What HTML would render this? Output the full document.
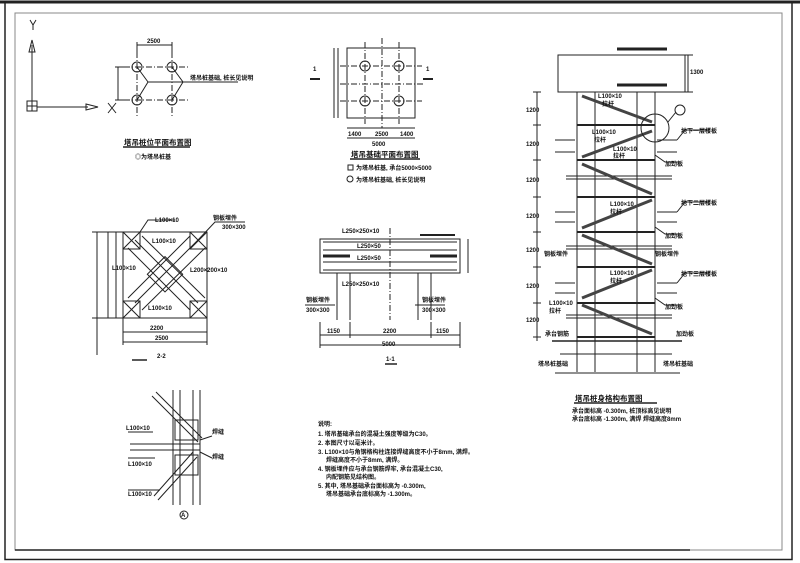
<!DOCTYPE html>
<html><head><meta charset="utf-8"><style>
html,body{margin:0;padding:0;background:#fff;}
svg{display:block;}
text{font-family:"Liberation Sans","Noto Sans CJK SC",sans-serif;font-weight:bold;fill:#111;}
.t{font-size:6px;}
.tt{font-size:7.5px;}
</style></head><body>
<svg width="800" height="563" viewBox="0 0 800 563" xmlns="http://www.w3.org/2000/svg">
<g fill="none" stroke="#222" stroke-width="1">
<!-- frames -->
<rect x="5" y="2.5" width="787" height="557" stroke-width="1.5"/>
<line x1="0" y1="2" x2="800" y2="2" stroke-width="3"/>
<rect x="15" y="13" width="767" height="537" stroke="#888"/>
<line x1="15" y1="550" x2="690" y2="550" stroke-width="1.5"/>
<!-- axis icon -->
<line x1="32" y1="45" x2="32" y2="105"/>
<path d="M29 52 L32 40 L35 52 Z"/>
<rect x="27" y="101" width="10" height="10"/>
<line x1="32" y1="101" x2="32" y2="111"/><line x1="27" y1="106" x2="37" y2="106"/>
<line x1="37" y1="107" x2="88" y2="107"/>
<path d="M86 104 L98 107 L86 110 Z"/>
<path d="M30 20 L33 25 L36 20 M33 25 L33 30"/>
<path d="M108 103 L116 113 M116 103 L108 113"/>
<!-- plan 1 -->
<g stroke-dasharray="6,2,1,2">
<line x1="124" y1="67" x2="190" y2="67"/><line x1="124" y1="100" x2="190" y2="100"/>
<line x1="137" y1="52" x2="137" y2="116"/><line x1="172" y1="52" x2="172" y2="116"/>
</g>
<circle cx="137" cy="67" r="5"/><circle cx="172" cy="67" r="5"/><circle cx="137" cy="100" r="5"/><circle cx="172" cy="100" r="5"/>
<path d="M137 67 L148 82 L137 100 M148 82 L183 82 L172 67 M183 82 L172 100 M183 82 L238 82"/>
<line x1="137" y1="45" x2="172" y2="45"/><line x1="137" y1="42" x2="137" y2="55"/><line x1="172" y1="42" x2="172" y2="55"/>
<line x1="118" y1="67" x2="118" y2="100"/><line x1="115" y1="67" x2="130" y2="67"/><line x1="115" y1="100" x2="130" y2="100"/>
<line x1="123" y1="147" x2="190" y2="147" stroke-width="1.5"/>
<!-- plan 2 -->
<rect x="347" y="48" width="68" height="70"/>
<g stroke-dasharray="6,2,1,2">
<line x1="340" y1="66" x2="422" y2="66"/><line x1="340" y1="101" x2="422" y2="101"/>
<line x1="365" y1="42" x2="365" y2="124"/><line x1="399" y1="42" x2="399" y2="124"/>
<line x1="340" y1="84" x2="424" y2="84"/><line x1="382" y1="38" x2="382" y2="128"/>
</g>
<g>
<circle cx="365" cy="66" r="5"/><circle cx="399" cy="66" r="5"/><circle cx="365" cy="101" r="5"/><circle cx="399" cy="101" r="5"/>
</g>
<line x1="338" y1="48" x2="338" y2="118"/><line x1="334" y1="48" x2="334" y2="118"/>
<line x1="347" y1="128" x2="415" y2="128"/><line x1="347" y1="138" x2="415" y2="138"/>
<line x1="310" y1="79" x2="320" y2="79" stroke-width="2"/><line x1="423" y1="79" x2="433" y2="79" stroke-width="2"/>
<line x1="350" y1="159" x2="420" y2="159" stroke-width="1.5"/>
<rect x="348" y="165" width="5" height="5"/><circle cx="350" cy="179" r="3"/>
<!-- section 2-2 -->
<rect x="123" y="232" width="84" height="86"/>
<line x1="116" y1="232" x2="116" y2="318"/>
<rect x="123" y="232" width="17" height="17"/><rect x="190" y="232" width="17" height="17"/>
<rect x="123" y="301" width="17" height="17"/><rect x="190" y="301" width="17" height="17"/>
<path d="M123 232 L140 249 M140 232 L123 249 M190 232 L207 249 M207 232 L190 249 M123 301 L140 318 M140 301 L123 318 M190 301 L207 318 M207 301 L190 318"/>
<path d="M135 240 L198 303 M128 248 L190 310 M142 236 L205 298 M198 240 L135 303 M205 248 L142 310 M190 236 L128 298"/>
<rect x="152" y="262" width="25" height="25" transform="rotate(45 165 275)"/>
<line x1="97" y1="232" x2="97" y2="355"/><line x1="97" y1="232" x2="97" y2="318"/><line x1="108" y1="232" x2="108" y2="318"/>
<line x1="92" y1="232" x2="123" y2="232"/><line x1="92" y1="318" x2="123" y2="318"/>
<line x1="123" y1="332" x2="207" y2="332"/><line x1="123" y1="342" x2="207" y2="342"/>
<line x1="123" y1="318" x2="123" y2="345"/><line x1="207" y1="318" x2="207" y2="345"/>
<line x1="132" y1="360" x2="147" y2="360" stroke-width="1.5"/>
<path d="M140 232 L148 220 L175 220 M198 240 L215 222 L245 222"/>
<!-- section 1-1 -->
<rect x="320" y="239" width="140" height="34"/>
<line x1="323" y1="250" x2="457" y2="250"/><line x1="323" y1="262" x2="457" y2="262"/>
<line x1="323" y1="242" x2="457" y2="242"/><line x1="323" y1="270" x2="457" y2="270"/>
<line x1="323" y1="256" x2="350" y2="256" stroke-width="3"/><line x1="430" y1="256" x2="457" y2="256" stroke-width="3"/>
<line x1="420" y1="235" x2="455" y2="235" stroke-width="2"/>
<line x1="390" y1="228" x2="390" y2="320" stroke-dasharray="6,2,1,2"/>
<line x1="337" y1="273" x2="337" y2="320"/><line x1="350" y1="273" x2="350" y2="320"/>
<line x1="418" y1="273" x2="418" y2="320"/><line x1="431" y1="273" x2="431" y2="320"/>
<line x1="468" y1="239" x2="468" y2="273"/>
<line x1="320" y1="335" x2="460" y2="335"/><line x1="320" y1="345" x2="460" y2="345"/>
<line x1="320" y1="322" x2="320" y2="348"/><line x1="460" y1="322" x2="460" y2="348"/>
<line x1="350" y1="322" x2="350" y2="338"/><line x1="431" y1="322" x2="431" y2="338"/>
<line x1="385" y1="364" x2="397" y2="364" stroke-width="1.5"/>
<path d="M305 305 L335 305 M415 305 L445 305"/>
<!-- detail A -->
<line x1="173" y1="390" x2="173" y2="505"/><line x1="180" y1="390" x2="180" y2="505"/>
<line x1="193" y1="390" x2="193" y2="505"/><line x1="200" y1="390" x2="200" y2="505"/>
<rect x="175" y="420" width="23" height="20"/><rect x="175" y="455" width="23" height="20"/>
<line x1="130" y1="444" x2="200" y2="444"/><line x1="130" y1="450" x2="200" y2="450"/>
<path d="M152 396 L198 442 M156 392 L202 438 M158 500 L197 457 M154 496 L193 452"/>
<path d="M153 432 L128 432 M155 458 L128 458 M160 490 L128 490 M200 440 L212 436 M200 452 L212 458"/>
<circle cx="184" cy="515" r="4"/>
<!-- tower -->
<rect x="558" y="55" width="127" height="37"/>
<line x1="617" y1="49" x2="667" y2="49" stroke-width="3"/><line x1="617" y1="85" x2="667" y2="85" stroke-width="3"/>
<line x1="688" y1="55" x2="688" y2="92"/><line x1="683" y1="55" x2="693" y2="55"/><line x1="683" y1="92" x2="693" y2="92"/>
<line x1="577" y1="92" x2="577" y2="372"/><line x1="595" y1="92" x2="595" y2="372"/>
<line x1="637" y1="92" x2="637" y2="372"/><line x1="655" y1="92" x2="655" y2="372"/>
<g>
<line x1="577" y1="125" x2="655" y2="125" stroke-width="2"/><line x1="577" y1="160" x2="655" y2="160" stroke-width="2"/>
<line x1="577" y1="197" x2="655" y2="197" stroke-width="2"/><line x1="577" y1="232" x2="655" y2="232" stroke-width="2"/>
<line x1="577" y1="267" x2="655" y2="267" stroke-width="2"/><line x1="577" y1="303" x2="655" y2="303" stroke-width="2"/>
<line x1="577" y1="337" x2="655" y2="337" stroke-width="2"/>
<line x1="566" y1="176" x2="672" y2="176"/><line x1="566" y1="179" x2="672" y2="179"/>
<line x1="566" y1="246" x2="672" y2="246"/><line x1="566" y1="249" x2="672" y2="249"/>
<line x1="566" y1="315" x2="672" y2="315"/><line x1="566" y1="318" x2="672" y2="318"/>
<line x1="552" y1="341" x2="682" y2="341" stroke-width="1.5"/>
<line x1="560" y1="354" x2="672" y2="354"/>
<line x1="555" y1="373" x2="680" y2="373"/>
</g>
<g stroke-width="3" stroke="#444">
<line x1="582" y1="96" x2="652" y2="122"/><line x1="582" y1="157" x2="652" y2="131"/>
<line x1="582" y1="164" x2="652" y2="194"/><line x1="582" y1="228" x2="652" y2="200"/>
<line x1="582" y1="235" x2="652" y2="264"/><line x1="582" y1="298" x2="652" y2="270"/>
<line x1="582" y1="305" x2="652" y2="334"/>
</g>
<circle cx="655" cy="128" r="14"/>
<path d="M668 122 L676 112"/><circle cx="680" cy="110" r="5"/>
<line x1="537" y1="92" x2="537" y2="341"/>
<g><line x1="533" y1="92" x2="541" y2="92"/><line x1="533" y1="125" x2="541" y2="125"/><line x1="533" y1="160" x2="541" y2="160"/><line x1="533" y1="197" x2="541" y2="197"/><line x1="533" y1="232" x2="541" y2="232"/><line x1="533" y1="267" x2="541" y2="267"/><line x1="533" y1="303" x2="541" y2="303"/><line x1="533" y1="337" x2="541" y2="337"/></g>
<path d="M555 140 L575 140 M555 152 L575 152 M555 212 L575 212 M555 222 L575 222 M555 283 L575 283 M555 293 L575 293"/>
<path d="M657 140 L677 140 M657 152 L677 152 M657 212 L677 212 M657 222 L677 222 M657 283 L677 283 M657 293 L677 293"/>
<path d="M677 140 L685 130 L710 130 M677 212 L685 202 L710 202 M677 283 L685 273 L710 273"/>
<path d="M655 155 L665 162 L680 162 M655 227 L665 234 L680 234 M655 298 L665 305 L680 305"/>
<line x1="574" y1="403" x2="657" y2="403" stroke-width="1.5"/>
</g>
<!-- text -->
<text class="tt" x="124" y="145">塔吊桩位平面布置图</text>
<text class="t" x="135" y="159">◎为塔吊桩基</text>
<text class="t" x="147" y="43">2500</text>
<text class="t" x="190" y="80">塔吊桩基础, 桩长见说明</text>
<text class="tt" x="351" y="157">塔吊基础平面布置图</text>
<text class="t" x="356" y="170">为塔吊桩基, 承台5000×5000</text>
<text class="t" x="356" y="182">为塔吊桩基础, 桩长见说明</text>
<text class="t" x="313" y="71">1</text><text class="t" x="426" y="71">1</text>
<text class="t" x="348" y="136">1400</text><text class="t" x="375" y="136">2500</text><text class="t" x="400" y="136">1400</text>
<text class="t" x="372" y="146">5000</text>
<text class="t" x="155" y="222">L100×10</text>
<text class="t" x="213" y="220">钢板埋件</text>
<text class="t" x="222" y="229">300×300</text>
<text class="t" x="152" y="243">L100×10</text>
<text class="t" x="112" y="270">L100×10</text>
<text class="t" x="190" y="272">L200×200×10</text>
<text class="t" x="148" y="310">L100×10</text>
<text class="t" x="150" y="330">2200</text><text class="t" x="155" y="340">2500</text>
<text class="t" x="157" y="358">2-2</text>
<text class="t" x="342" y="233">L250×250×10</text>
<text class="t" x="357" y="248">L250×50</text>
<text class="t" x="357" y="260">L250×50</text>
<text class="t" x="342" y="286">L250×250×10</text>
<text class="t" x="306" y="302">钢板埋件</text><text class="t" x="422" y="302">钢板埋件</text>
<text class="t" x="306" y="312">300×300</text><text class="t" x="422" y="312">300×300</text>
<text class="t" x="327" y="333">1150</text><text class="t" x="383" y="333">2200</text><text class="t" x="436" y="333">1150</text>
<text class="t" x="382" y="346">5000</text>
<text class="t" x="386" y="361">1-1</text>
<text class="t" x="126" y="430">L100×10</text>
<text class="t" x="128" y="466">L100×10</text>
<text class="t" x="128" y="496">L100×10</text>
<text class="t" x="212" y="434">焊缝</text><text class="t" x="212" y="459">焊缝</text>
<text class="t" x="181" y="517">A</text>
<text class="t" x="318" y="426">说明:</text>
<text class="t" x="318" y="436">1. 塔吊基础承台的混凝土强度等级为C30。</text>
<text class="t" x="318" y="445">2. 本图尺寸以毫米计。</text>
<text class="t" x="318" y="454">3. L100×10与角钢格构柱连接焊缝高度不小于8mm, 满焊。</text>
<text class="t" x="326" y="462">焊缝高度不小于8mm, 满焊。</text>
<text class="t" x="318" y="471">4. 钢板埋件应与承台钢筋焊牢, 承台混凝土C30,</text>
<text class="t" x="326" y="479">内配钢筋见结构图。</text>
<text class="t" x="318" y="488">5. 其中, 塔吊基础承台面标高为 -0.300m,</text>
<text class="t" x="326" y="496">塔吊基础承台底标高为 -1.300m。</text>
<text class="tt" x="575" y="401">塔吊桩身格构布置图</text>
<text class="t" x="572" y="413">承台面标高 -0.300m, 桩顶标高见说明</text>
<text class="t" x="572" y="421">承台底标高 -1.300m, 满焊 焊缝高度8mm</text>
<text class="t" x="598" y="98">L100×10</text><text class="t" x="602" y="106">拉杆</text>
<text class="t" x="592" y="134">L100×10</text><text class="t" x="594" y="142">拉杆</text>
<text class="t" x="613" y="151">L100×10</text><text class="t" x="613" y="158">拉杆</text>
<text class="t" x="610" y="206">L100×10</text><text class="t" x="610" y="214">拉杆</text>
<text class="t" x="610" y="275">L100×10</text><text class="t" x="610" y="283">拉杆</text>
<text class="t" x="549" y="305">L100×10</text><text class="t" x="549" y="313">拉杆</text>
<text class="t" x="681" y="133">地下一层楼板</text>
<text class="t" x="681" y="205">地下二层楼板</text>
<text class="t" x="681" y="276">地下三层楼板</text>
<text class="t" x="665" y="166">加劲板</text><text class="t" x="665" y="238">加劲板</text><text class="t" x="665" y="309">加劲板</text>
<text class="t" x="544" y="256">钢板埋件</text><text class="t" x="655" y="256">钢板埋件</text>
<text class="t" x="545" y="336">承台钢筋</text><text class="t" x="676" y="336">加劲板</text>
<text class="t" x="538" y="366">塔吊桩基础</text><text class="t" x="663" y="366">塔吊桩基础</text>
<text class="t" x="690" y="74">1300</text>
<text class="t" x="526" y="112">1200</text><text class="t" x="526" y="146">1200</text><text class="t" x="526" y="182">1200</text>
<text class="t" x="526" y="218">1200</text><text class="t" x="526" y="252">1200</text><text class="t" x="526" y="288">1200</text><text class="t" x="526" y="322">1200</text>
</svg>
</body></html>
